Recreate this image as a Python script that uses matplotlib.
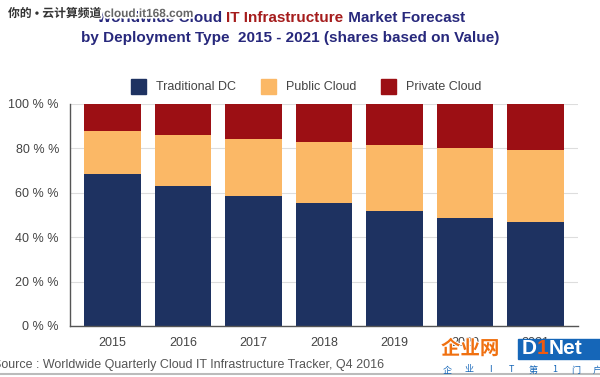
import numpy as np
import matplotlib.pyplot as plt
import matplotlib.patheffects as pe

plt.rcParams['font.family'] = ['Liberation Sans', 'Noto Sans CJK SC', 'DejaVu Sans']

# data (shares in %)
years = ['2015', '2016', '2017', '2018', '2019', '2020', '2021']
traditional = [68.5, 63.1, 58.7, 55.4, 51.7, 48.5, 46.7]
public = [19.2, 22.9, 25.7, 27.3, 29.7, 31.5, 32.6]
private = [12.3, 14.0, 15.6, 17.3, 18.6, 20.0, 20.7]
series = ['Traditional DC', 'Public Cloud', 'Private Cloud']
colors = ['#1e3261', '#fbb866', '#9c0f14']
yticks = [0, 20, 40, 60, 80, 100]
logo_chars = ['企', '业', 'I', 'T', '第', '1', '门', '户']

W, H = 600, 377
fig = plt.figure(figsize=(6, 3.77), dpi=100)
ax = fig.add_axes([70 / W, 1 - 326 / H, 508 / W, 222 / H])

x = np.arange(len(years))
trad = np.array(traditional)
pub = np.array(public)
priv = np.array(private)
ax.bar(x, trad, 0.8, color=colors[0], zorder=2)
ax.bar(x, pub, 0.8, bottom=trad, color=colors[1], zorder=2)
ax.bar(x, priv, 0.8, bottom=trad + pub, color=colors[2], zorder=2)

ax.set_xlim(-0.6, 6.6)
ax.set_ylim(0, 100)
ax.set_xticks(x)
ax.set_xticklabels(years, fontsize=9, color='#444444')
ax.set_yticks(yticks)
ax.set_yticklabels(['%d %% %%' % v for v in yticks], fontsize=9, color='#444444')
ax.tick_params(length=0, pad=8)
ax.grid(axis='y', color='#dddddd', lw=0.8, zorder=0)
for s in ['top', 'right']:
    ax.spines[s].set_visible(False)
for s in ['left', 'bottom']:
    ax.spines[s].set_color('#555555')
    ax.spines[s].set_linewidth(1.0)
    ax.spines[s].set_zorder(3)

fig.canvas.draw()
r = fig.canvas.get_renderer()

# title
navy = '#27287c'
red = '#a51c1c'
t1 = fig.text(97 / W, 1 - 18 / H, 'Worldwide Cloud ', fontsize=11, fontweight='bold',
              color=navy, va='center')
bb = t1.get_window_extent(r)
t2 = fig.text(bb.x1 / W, 1 - 18 / H, 'IT Infrastructure', fontsize=11, fontweight='bold',
              color=red, va='center')
bb = t2.get_window_extent(r)
fig.text(bb.x1 / W, 1 - 18 / H, ' Market Forecast', fontsize=11, fontweight='bold',
         color=navy, va='center')
fig.text(290 / W, 1 - 38 / H, 'by Deployment Type  2015 - 2021 (shares based on Value)',
         fontsize=11, fontweight='bold', color=navy, va='center', ha='center')

# legend
leg_x = [131, 261, 381]
for lx, name, c in zip(leg_x, series, colors):
    fig.patches.append(plt.Rectangle((lx / W, 1 - 94 / H), 15 / W, 15 / H, color=c,
                                     transform=fig.transFigure))
    fig.text((lx + 25) / W, 1 - 87 / H, name, fontsize=9, color='#444444', va='center')

# source
fig.text(-7 / W, 1 - 365 / H, 'Source : Worldwide Quarterly Cloud IT Infrastructure Tracker, Q4 2016',
         fontsize=9, color='#555555', va='center')
fig.add_artist(plt.Line2D([0, 1], [1 - 374 / H] * 2, color='#bbbbbb', lw=1.5,
                          transform=fig.transFigure))

# watermark top-left
halo = [pe.withStroke(linewidth=2.5, foreground='white')]
wm = fig.text(8 / W, 1 - 14 / H, '你的 • 云计算频道 ', fontsize=8.5, fontweight='bold',
              color='#333333', va='center', path_effects=halo)
bb = wm.get_window_extent(r)
fig.text(bb.x1 / W, 1 - 14 / H, 'cloud.it168.com', fontsize=8.5, fontweight='bold',
         color='#666666', va='center', path_effects=halo)

# logo bottom-right
fig.text(441 / W, 1 - 349 / H, '企业网', fontsize=14, fontweight='bold', color='#f07010',
         va='center', family=['Noto Sans CJK SC'],
         path_effects=[pe.withStroke(linewidth=1.5, foreground='white')])
fig.patches.append(plt.Rectangle((518 / W, 1 - 359 / H), 82 / W, 20 / H, color='#1566b8',
                                 transform=fig.transFigure))
px = 522
for part, c in zip(['D', '1', 'Net'], ['white', '#f05a10', 'white']):
    t = fig.text(px / W, 1 - 349 / H, part, fontsize=15, fontweight='bold', color=c,
                 va='center')
    px = t.get_window_extent(r).x1
for i, ch in enumerate(logo_chars):
    fig.text((447 + i * 21.5) / W, 1 - 370 / H, ch, fontsize=6.5, color='#1566b8',
             va='center', ha='center', family=['Noto Sans CJK SC'])

fig.savefig('out.png', dpi=100)
